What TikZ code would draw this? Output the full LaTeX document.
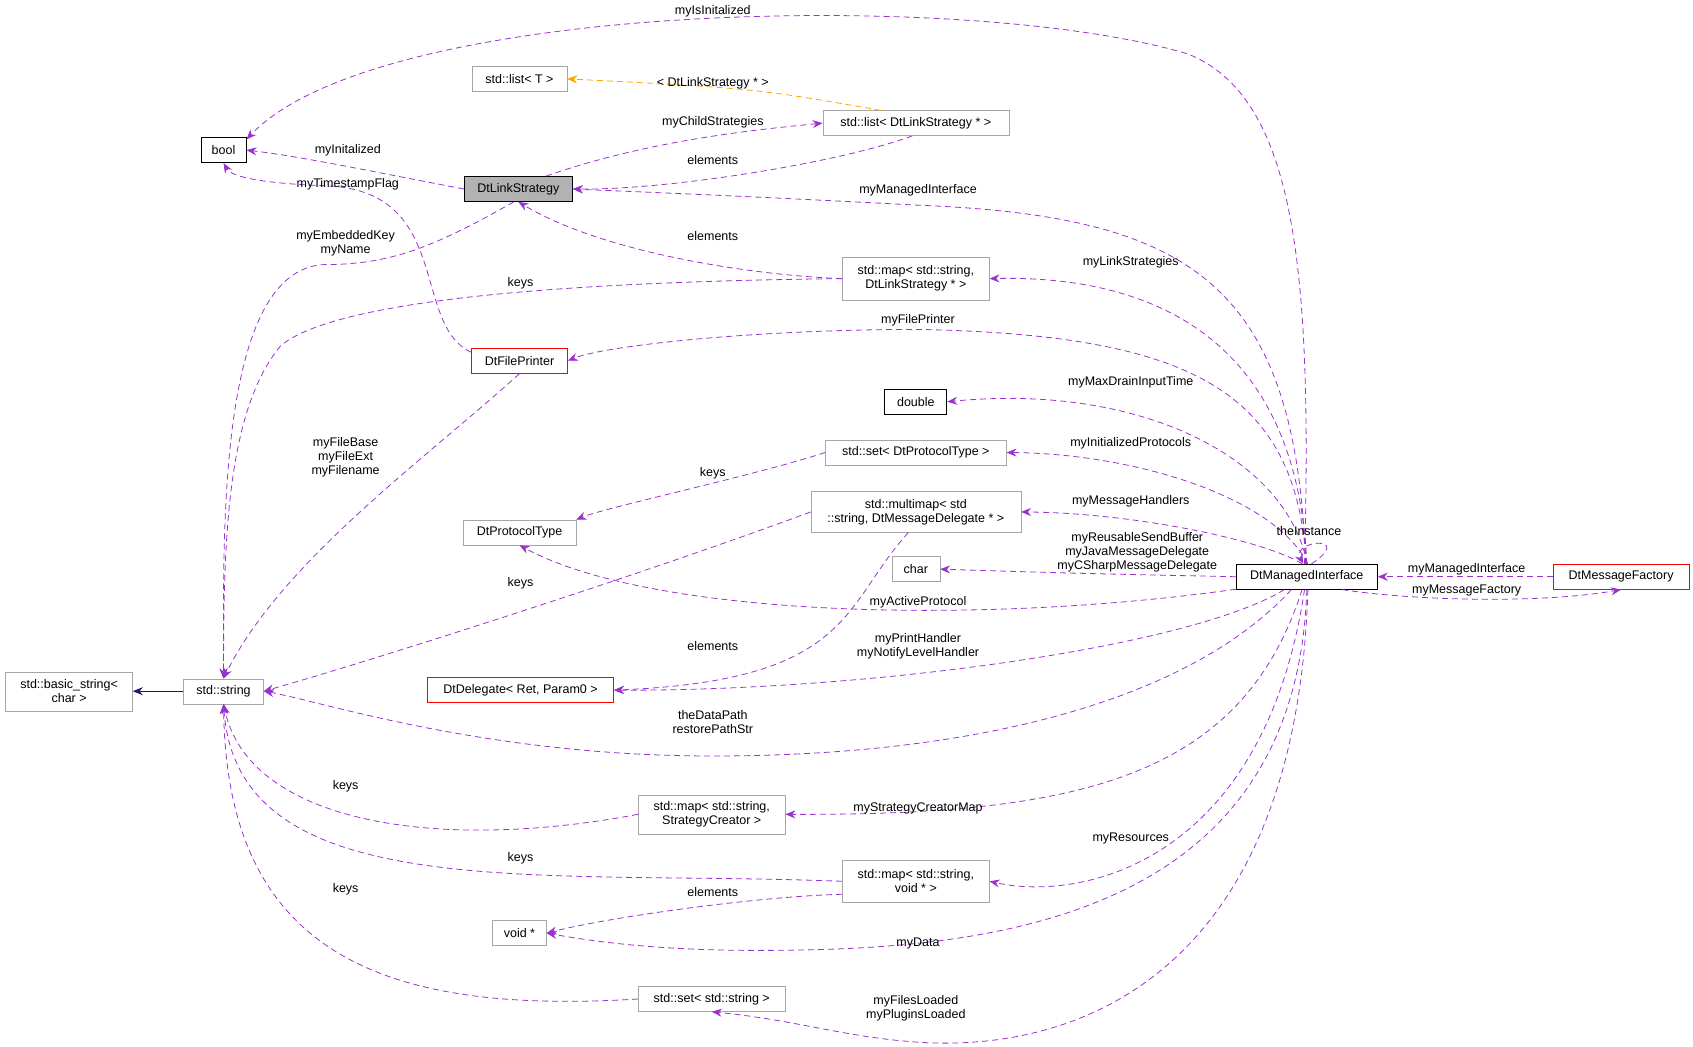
\documentclass[tikz,border=0pt]{standalone}
\usepackage{fontspec}
\setmainfont{Liberation Sans}
\usetikzlibrary{arrows.meta}
\definecolor{rel}{HTML}{9A32CD}
\definecolor{tmpl}{HTML}{FFA500}
\definecolor{inh}{HTML}{191970}
\begin{document}
\begin{tikzpicture}[x=1.08pt, y=-1.08pt,
     every node/.style = {font=\fontsize{12.5}{14}\selectfont},
        box/.style = {rectangle, draw=black!35, minimum height=25pt, inner xsep=6pt, align=center},
        bbox/.style = {box, draw=black, thick},
        rbox/.style = {box, draw=red, thick},
        use/.style = {draw=rel, thick, dash pattern=on 6pt off 4pt, -{Stealth[length=10pt,width=8pt]}},
        lbl/.style = {align=center, inner sep=1pt}
                        ]
\useasboundingbox (0,0) rectangle (1567.6,969.4);
% nodes
\node (bool)  [bbox, minimum width=45pt]  at (207,139) {bool};
\node (lt)    [box, minimum width=95pt]   at (481,73)  {std::list\textless{} T \textgreater};
\node (ldls)  [box, minimum width=186pt]  at (848,114) {std::list\textless{} DtLinkStrategy * \textgreater};
\node (dls)   [bbox, fill=black!30, minimum width=108pt] at (480,175) {DtLinkStrategy};
\node (mapls) [box, minimum width=147pt, minimum height=43pt] at (848,258) {std::map\textless{} std::string,\\DtLinkStrategy * \textgreater};
\node (fp)    [rbox, minimum width=96pt]  at (481,334) {DtFilePrinter};
\node (dbl)   [bbox, minimum width=62pt]  at (848,372) {double};
\node (setpt) [box, minimum width=181pt]  at (848,419) {std::set\textless{} DtProtocolType \textgreater};
\node (mm)    [box, minimum width=210pt, minimum height=41pt] at (848,474) {std::multimap\textless{} std\\::string, DtMessageDelegate * \textgreater};
\node (pt)    [box, minimum width=113pt]  at (481,493) {DtProtocolType};
\node (chr)   [box, minimum width=48pt]   at (848,527) {char};
\node (mi)    [bbox, minimum width=141pt] at (1210,534) {DtManagedInterface};
\node (mf)    [rbox, minimum width=136pt] at (1501,534) {DtMessageFactory};
\node (bs)    [box, minimum width=127pt, minimum height=39pt] at (64,640) {std::basic\_string\textless\\char \textgreater};
\node (str)   [box, minimum width=80pt]   at (207,640) {std::string};
\node (dd)    [rbox, minimum width=186pt] at (482,639) {DtDelegate\textless{} Ret, Param0 \textgreater};
\node (msc)   [box, minimum width=147pt, minimum height=39pt] at (659,754) {std::map\textless{} std::string,\\StrategyCreator \textgreater};
\node (mv)    [box, minimum width=147pt, minimum height=42pt] at (848,816) {std::map\textless{} std::string,\\void * \textgreater};
\node (vd)    [box, minimum width=54pt]   at (481,864) {void *};
\node (ss)    [box, minimum width=147pt]  at (659,925) {std::set\textless{} std::string \textgreater};
% connectors
\draw[use] (mi.100) .. controls (1215,250) and (1200,90) .. (1100,50) .. controls (900,-10) and (350,0) .. (bool.25);
\draw[thick, dash pattern=on 6pt off 4pt, draw=tmpl, -{Stealth[length=10pt,width=8pt]}] (ldls.160) .. controls (700,82) .. (lt.east);
\draw[use] (dls.25) .. controls (600,130) and (700,120) .. (ldls.west);
\draw[use] (ldls.255) .. controls (780,150) and (620,176) .. (dls.east);
\draw[use] (dls.west) .. controls (350,160) and (280,145) .. (bool.east);
\draw[use] (fp.170) .. controls (380,300) and (420,175) .. (300,172) .. controls (250,170) and (215,165) .. (bool.south);
\draw[use] (mi.95) .. controls (1200,260) and (1100,200) .. (850,190) .. controls (700,182) and (600,178) .. (dls.east);
\draw[use] (mapls.west) .. controls (700,255) and (560,235) .. (dls.south);
\draw[use] (dls.250) .. controls (400,230) and (360,245) .. (300,245) .. controls (200,250) and (207,500) .. (str.north);
\draw[use] (mapls.west) .. controls (600,260) and (320,270) .. (260,320) .. controls (210,380) and (207,500) .. (str.north);
\draw[use] (mi.90) .. controls (1200,300) and (1050,255) .. (mapls.east);
\draw[use] (mi.92) .. controls (1200,360) and (1100,310) .. (850,305) .. controls (700,305) and (560,320) .. (fp.east);
\draw[use] (fp.south) .. controls (400,420) and (260,520) .. (str.north);
\draw[use] (mi.88) .. controls (1190,420) and (1050,355) .. (dbl.east);
\draw[use] (mi.86) .. controls (1180,460) and (1050,420) .. (setpt.east);
\draw[use] (setpt.west) .. controls (700,440) and (560,470) .. (pt.north east);
\draw[use] (mi.110) .. controls (1170,500) and (1050,475) .. (mm.east);
\draw[use] (mi.70) .. controls (1255,495) and (1195,500) .. (mi.105);
\draw[use] (mi.west) .. controls (1000,531) .. (chr.east);
\draw[use] (mi.190) .. controls (900,580) and (600,570) .. (pt.south);
\draw[use] (mm.west) .. controls (600,530) and (350,610) .. (str.east);
\draw[use] (mm.250) .. controls (780,560) and (790,630) .. (dd.east);
\draw[use] (mi.210) .. controls (1100,600) and (800,640) .. (dd.east);
\draw[use] (mi.220) .. controls (1100,650) and (900,700) .. (660,700) .. controls (450,700) and (300,650) .. (str.east);
\draw[use] (mf.west) -- (mi.east);
\draw[use] (mi.340) .. controls (1300,555) and (1420,560) .. (mf.south);
\draw[inh, thick, -{Stealth[length=10pt,width=8pt]}] (str.west) -- (bs.east);
\draw[use] (msc.west) .. controls (400,790) and (230,760) .. (str.south);
\draw[use] (mi.250) .. controls (1150,720) and (1000,755) .. (msc.east);
\draw[use] (mv.west) .. controls (500,805) and (220,840) .. (str.south);
\draw[use] (mi.260) .. controls (1170,800) and (1000,835) .. (mv.east);
\draw[use] (mv.190) .. controls (700,830) and (560,850) .. (vd.east);
\draw[use] (mi.270) .. controls (1200,860) and (900,880) .. (700,880) .. controls (600,880) and (540,870) .. (vd.east);
\draw[use] (ss.west) .. controls (350,940) and (210,880) .. (str.south);
\draw[use] (mi.275) .. controls (1200,900) and (1000,975) .. (850,965) .. controls (780,960) and (740,945) .. (ss.south);
% labels
\node (l1)  [lbl] at (660,10)  {myIsInitalized};
\node (l2)  [lbl] at (660,77)  {\textless{} DtLinkStrategy * \textgreater};
\node (l3)  [lbl] at (660,113) {myChildStrategies};
\node (l4)  [lbl] at (660,148) {elements};
\node (l5)  [lbl] at (322,139) {myInitalized};
\node (l6)  [lbl] at (322,171) {myTimestampFlag};
\node (l7)  [lbl] at (850,176) {myManagedInterface};
\node (l8)  [lbl] at (660,219) {elements};
\node (l9)  [lbl] at (320,225) {myEmbeddedKey\\myName};
\node (l10) [lbl] at (482,262) {keys};
\node (l11) [lbl] at (1047,243) {myLinkStrategies};
\node (l12) [lbl] at (850,297) {myFilePrinter};
\node (l13) [lbl] at (320,423) {myFileBase\\myFileExt\\myFilename};
\node (l14) [lbl] at (1047,354) {myMaxDrainInputTime};
\node (l15) [lbl] at (1047,410) {myInitializedProtocols};
\node (l16) [lbl] at (660,438) {keys};
\node (l17) [lbl] at (1047,464) {myMessageHandlers};
\node (l18) [lbl] at (1212,492) {theInstance};
\node (l19) [lbl] at (1053,511) {myReusableSendBuffer\\myJavaMessageDelegate\\myCSharpMessageDelegate};
\node (l20) [lbl] at (850,558) {myActiveProtocol};
\node (l21) [lbl] at (482,540) {keys};
\node (l22) [lbl] at (660,598) {elements};
\node (l23) [lbl] at (850,598) {myPrintHandler\\myNotifyLevelHandler};
\node (l24) [lbl] at (660,669) {theDataPath\\restorePathStr};
\node (l25) [lbl] at (1358,527) {myManagedInterface};
\node (l26) [lbl] at (1358,547) {myMessageFactory};
\node (l28) [lbl] at (320,728) {keys};
\node (l29) [lbl] at (850,749) {myStrategyCreatorMap};
\node (l30) [lbl] at (482,795) {keys};
\node (l31) [lbl] at (1047,776) {myResources};
\node (l32) [lbl] at (660,826) {elements};
\node (l33) [lbl] at (850,874) {myData};
\node (l34) [lbl] at (320,823) {keys};
\node (l35) [lbl] at (848,934) {myFilesLoaded\\myPluginsLoaded};
\end{tikzpicture}
\end{document}
